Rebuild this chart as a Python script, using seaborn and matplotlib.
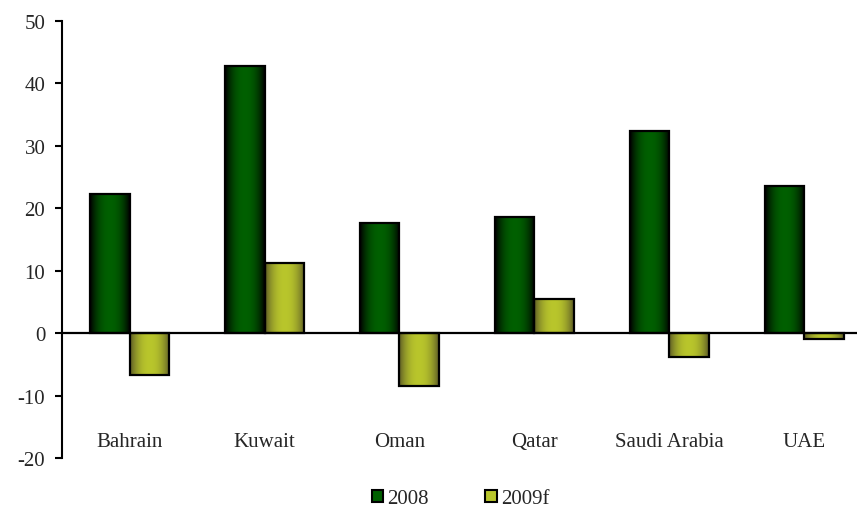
import numpy as np
import pandas as pd
import matplotlib
matplotlib.use("Agg")
import matplotlib.pyplot as plt
from matplotlib.patches import Patch
from matplotlib.colors import to_rgb
import seaborn as sns

countries = ["Bahrain", "Kuwait", "Oman", "Qatar", "Saudi Arabia", "UAE"]
vals_2008 = [22.3, 42.8, 17.6, 18.6, 32.4, 23.5]
vals_2009f = [-6.7, 11.2, -8.5, 5.4, -3.8, -1.0]
series = ["2008", "2009f"]
yticks = [-20, -10, 0, 10, 20, 30, 40, 50]

center_cols = {"2008": "#006000", "2009f": "#b9c62c"}
edge_cols = {"2008": "#000000", "2009f": "#5c5a26"}

df = pd.DataFrame({
    "country": countries * 2,
    "value": vals_2008 + vals_2009f,
    "year": ["2008"] * len(countries) + ["2009f"] * len(countries),
})

sns.set_style("white")
plt.rcParams["font.family"] = ["Liberation Serif", "DejaVu Serif"]

fig = plt.figure(figsize=(8.58, 5.10), dpi=100)
ax = fig.add_axes([0.0723, 0.1, 0.9266, 0.8569])

sns.barplot(data=df, x="country", y="value", hue="year", order=countries,
            hue_order=series, palette=center_cols, width=0.58,
            edgecolor="black", linewidth=1.6, ax=ax, legend=False, zorder=2)

# gradient fill for each bar
n = 200
t = np.linspace(0, 1, n)
prof = 1 - np.abs(2 * t - 1) ** 2.2
bars = [p for p in ax.patches]
for i, p in enumerate(bars):
    if i >= 2 * len(countries):
        continue
    yr = series[i // len(countries)]
    c0 = np.array(to_rgb(edge_cols[yr]))
    c1 = np.array(to_rgb(center_cols[yr]))
    grad = c0[None, :] + (c1 - c0)[None, :] * prof[:, None]
    grad = grad[None, :, :]
    x, y = p.get_x(), p.get_y()
    w, h = p.get_width(), p.get_height()
    ax.imshow(grad, extent=[x, x + w, min(y, y + h), max(y, y + h)],
              aspect="auto", zorder=1.9, interpolation="bilinear")
    p.set_facecolor("none")

ax.set_xlim(-0.5, 5.39)
ax.set_ylim(-20, 50)
ax.set_yticks(yticks)
ax.set_yticklabels([str(v) for v in yticks], fontsize=15)
ax.tick_params(axis="y", direction="out", length=5, width=1.5, color="black",
               left=True, pad=7)
ax.set_xticks([])
ax.set_xlabel("")
ax.set_ylabel("")

for s in ["top", "right", "bottom"]:
    ax.spines[s].set_visible(False)
ax.spines["left"].set_linewidth(1.5)
ax.spines["left"].set_color("black")
ax.axhline(0, color="black", linewidth=1.6, zorder=3)

for i, c in enumerate(countries):
    ax.text(i, -17.4, c, ha="center", va="center", fontsize=15)

handles = [Patch(facecolor=center_cols[s], edgecolor="black", linewidth=1.5, label=s)
           for s in series]
fig.legend(handles=handles, loc="center", bbox_to_anchor=(0.537, 0.02), ncol=2,
           frameon=False, fontsize=15, handlelength=0.55, handleheight=0.55,
           handletextpad=0.2, columnspacing=2.7)

fig.savefig("out.png", dpi=100)
